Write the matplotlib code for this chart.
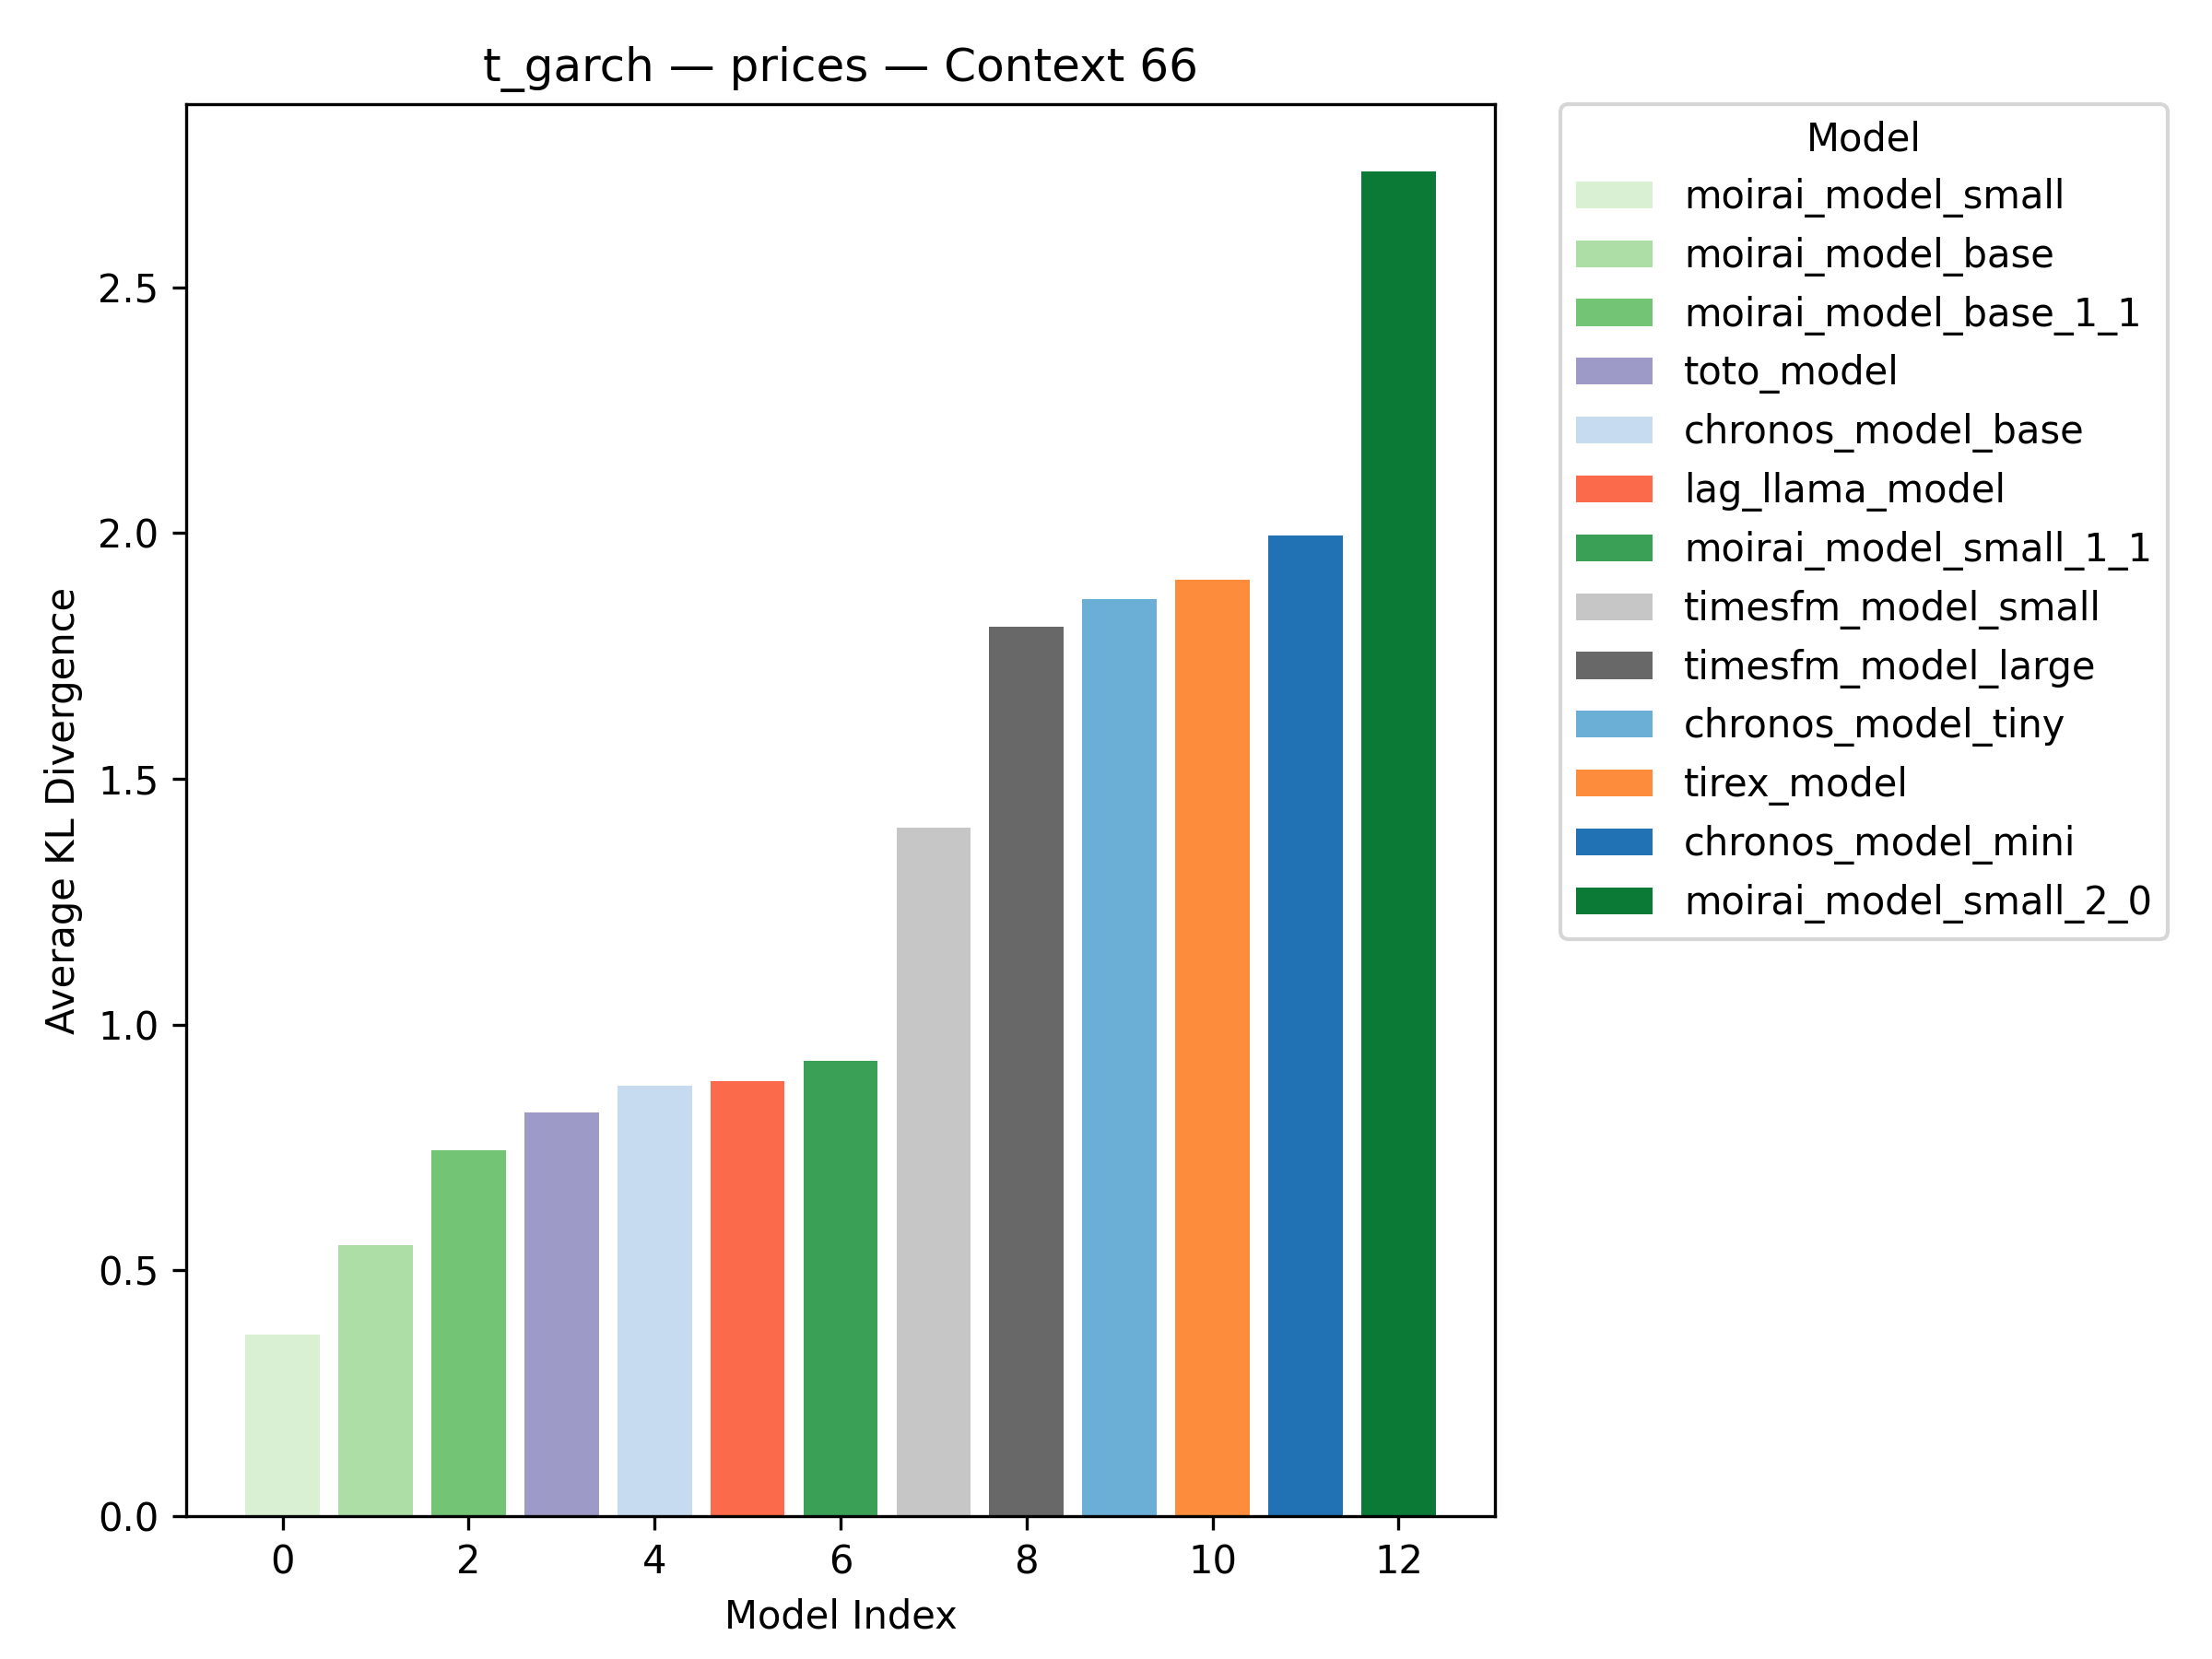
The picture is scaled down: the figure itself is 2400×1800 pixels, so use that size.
import matplotlib
matplotlib.use("Agg")
import matplotlib.pyplot as plt

models = ["moirai_model_small", "moirai_model_base", "moirai_model_base_1_1", "toto_model",
          "chronos_model_base", "lag_llama_model", "moirai_model_small_1_1", "timesfm_model_small",
          "timesfm_model_large", "chronos_model_tiny", "tirex_model", "chronos_model_mini",
          "moirai_model_small_2_0"]
kl = [0.37, 0.552, 0.745, 0.822, 0.875, 0.885, 0.927, 1.40, 1.81, 1.865, 1.905, 1.995, 2.735]
colors = ["#d9f0d3", "#addea6", "#74c476", "#9e9ac8", "#c6dbef", "#fb6a4a", "#39a055",
          "#c6c6c6", "#686868", "#6baed6", "#fd8d3c", "#2171b5", "#0a7a36"]

fig, ax = plt.subplots(figsize=(8, 6), dpi=300)
for i, (m, v, c) in enumerate(zip(models, kl, colors)):
    ax.bar(i, v, color=c, label=m)
ax.set_title("t_garch — prices — Context 66")
ax.set_xlabel("Model Index")
ax.set_ylabel("Average KL Divergence")
ax.legend(title="Model", bbox_to_anchor=(1.05, 1.0), loc="upper left", borderaxespad=0)
fig.subplots_adjust(left=0.084, right=0.676, top=0.937, bottom=0.086)
fig.savefig("out.png")
